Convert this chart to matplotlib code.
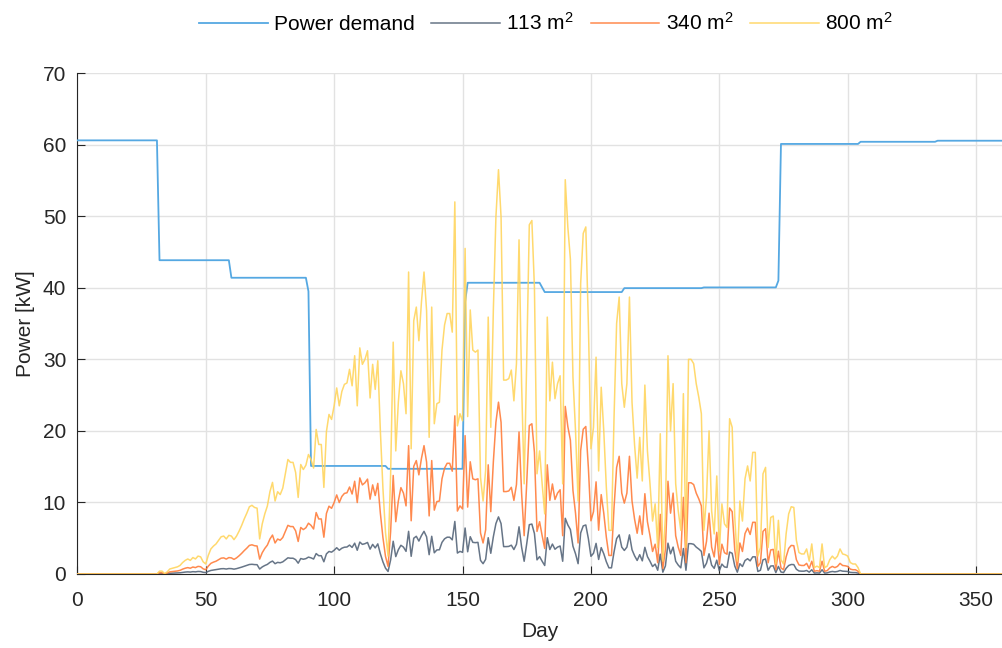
import numpy as np
import matplotlib.pyplot as plt

plt.rcParams['font.family'] = ['Liberation Sans', 'DejaVu Sans']
plt.rcParams['mathtext.fontset'] = 'custom'
plt.rcParams['mathtext.rm'] = 'Liberation Sans'
plt.rcParams['mathtext.it'] = 'Liberation Sans:italic'

# ---------------------------------------------------------------- data
n_days = 365
day = np.arange(n_days)

# Heat demand of the building, monthly levels (vertices of the daily curve)
demand_day = [0, 31, 32, 59, 60, 89, 90, 91, 120, 121, 150, 151, 152,
              180, 182, 212, 213, 243, 244, 272, 273, 274, 304, 305,
              334, 335, 364]
demand_kw = [60.6, 60.6, 43.85, 43.85, 41.4, 41.4, 39.5, 15.1, 15.1,
             14.7, 14.7, 38.0, 40.7, 40.7, 39.4, 39.4, 39.95, 39.95,
             40.05, 40.05, 41.0, 60.1, 60.1, 60.4, 60.4, 60.55, 60.55]

# Daily mean collector output of the 800 m2 field [kW], days 31..305
first_yield_day = 31
output_800 = [
    0.0, 0.4, 0.4, 0.05, 0.3, 0.7, 0.8, 0.9, 1.0, 1.2,          # 31-40
    1.6, 1.9, 2.1, 1.9, 2.3, 2.1, 2.5, 2.4, 1.7, 1.4,           # 41-50
    2.6, 3.5, 3.9, 4.2, 4.7, 5.2, 5.3, 4.9, 5.4, 5.3,           # 51-60
    4.8, 5.3, 6.0, 6.8, 7.7, 8.5, 9.4, 9.6, 9.3, 9.2,           # 61-70
    4.9, 7.0, 8.4, 9.5, 11.5, 12.8, 10.2, 11.5, 11.1, 12.0,     # 71-80
    14.0, 16.0, 15.6, 15.6, 14.2, 10.7, 15.3, 14.6, 15.2, 16.7, # 81-90
    16.0, 14.8, 20.2, 18.1, 18.1, 12.1, 19.9, 22.3, 21.6, 23.5, # 91-100
    26.0, 23.5, 25.5, 26.5, 26.7, 28.6, 26.3, 30.5, 23.5, 31.6, # 101-110
    29.3, 30.0, 31.2, 24.6, 29.3, 25.8, 29.8, 20.0, 12.0, 5.8,  # 111-120
    2.5, 14.0, 32.4, 17.2, 24.0, 28.4, 26.6, 22.4, 42.2, 17.5,  # 121-130
    35.4, 37.3, 32.6, 38.0, 42.2, 36.8, 19.1, 37.3, 21.0, 23.8, # 131-140
    24.0, 31.3, 34.8, 36.4, 36.4, 33.8, 52.0, 20.7, 22.4, 21.4, # 141-150
    45.5, 22.0, 36.9, 31.3, 31.0, 31.3, 13.5, 10.2, 14.5, 35.9, # 151-160
    20.5, 36.9, 49.9, 56.5, 49.9, 27.1, 27.1, 27.3, 28.5, 24.2, # 161-170
    29.4, 46.7, 26.6, 12.6, 30.0, 48.8, 49.4, 40.0, 14.0, 17.2, # 171-180
    12.6, 8.4, 35.9, 24.2, 29.6, 24.5, 26.6, 27.7, 12.6, 55.1,  # 181-190
    48.5, 44.0, 27.5, 20.0, 10.2, 40.6, 47.6, 48.5, 35.0, 17.5, # 191-200
    20.5, 30.3, 14.4, 26.1, 20.0, 12.1, 6.1, 6.1, 21.9, 35.0,   # 201-210
    38.7, 26.6, 23.3, 26.6, 38.7, 24.0, 18.0, 13.4, 19.1, 13.0, # 211-220
    26.4, 17.2, 12.6, 7.4, 9.8, 3.7, 19.6, 1.8, 8.0, 30.5,      # 221-230
    20.0, 26.6, 12.6, 8.8, 6.1, 25.2, 3.7, 30.0, 30.0, 29.4,    # 231-240
    26.6, 24.7, 22.4, 6.1, 10.7, 20.0, 8.8, 5.6, 13.7, 3.2,     # 241-250
    9.8, 7.0, 6.5, 21.7, 20.5, 8.0, 1.8, 10.2, 7.4, 13.3,       # 251-260
    15.1, 13.0, 17.0, 17.0, 2.5, 3.7, 14.0, 14.9, 3.7, 7.9,     # 261-270
    8.1, 1.4, 7.5, 2.0, 1.4, 5.6, 8.4, 9.4, 9.3, 4.7,           # 271-280
    3.0, 2.8, 2.8, 3.5, 1.8, 4.2, 0.9, 1.1, 0.9, 4.2,           # 281-290
    0.9, 1.1, 2.0, 2.5, 2.1, 2.5, 3.5, 2.8, 2.7, 2.5,           # 291-300
    1.6, 1.4, 1.4, 0.9, 0.0,                                    # 301-305
]

# Collector field sizes [m2]; output scales linearly with area
areas = [113, 340, 800]
area_labels = ['113 m$^2$', '340 m$^2$', '800 m$^2$']
area_colors = ['#56667a', '#ff7d3b', '#ffd55e']

x_ticks = [0, 50, 100, 150, 200, 250, 300, 350]
y_ticks = [0, 10, 20, 30, 40, 50, 60, 70]

# ---------------------------------------------------------------- figure
fig = plt.figure(figsize=(10.03, 6.48), dpi=100)
ax = fig.add_axes([0.0771, 0.1142, 0.923, 0.773])

specific = np.zeros(n_days)
specific[first_yield_day:first_yield_day + len(output_800)] = np.array(output_800) / 800.0

handles = []
h, = ax.plot(demand_day, demand_kw, color='#55a8e2', lw=1.3, zorder=3,
             label='Power demand')
handles.append(h)
for area, lab, col in zip(areas, area_labels, area_colors):
    h, = ax.plot(day, specific * area, color=col, lw=1.1, zorder=3,
                 alpha=0.9, label=lab)
    handles.append(h)

ax.set_xlim(0, 360.5)
ax.set_ylim(0, 70)
ax.set_xticks(x_ticks)
ax.set_yticks(y_ticks)
ax.grid(True, color='#e2e2e2', linewidth=1.0)
ax.set_axisbelow(True)

for side in ('top', 'right'):
    ax.spines[side].set_visible(False)
for side in ('left', 'bottom'):
    ax.spines[side].set_color('#262626')
    ax.spines[side].set_linewidth(0.8)

ax.tick_params(axis='both', direction='in', length=6, width=0.8,
               color='#262626', labelcolor='#262626', labelsize=15)
ax.tick_params(axis='x', pad=12)
ax.tick_params(axis='y', pad=8)

ax.set_xlabel('Day', fontsize=15, color='#262626', labelpad=9)
ax.set_ylabel('Power [kW]', fontsize=15, color='#262626', labelpad=6)

fig.legend(handles=handles, loc='center', bbox_to_anchor=(0.544, 0.964),
           ncol=4, frameon=False, fontsize=15, handlelength=3.3,
           handletextpad=0.3, columnspacing=0.8)

fig.savefig('out.png', dpi=100)
